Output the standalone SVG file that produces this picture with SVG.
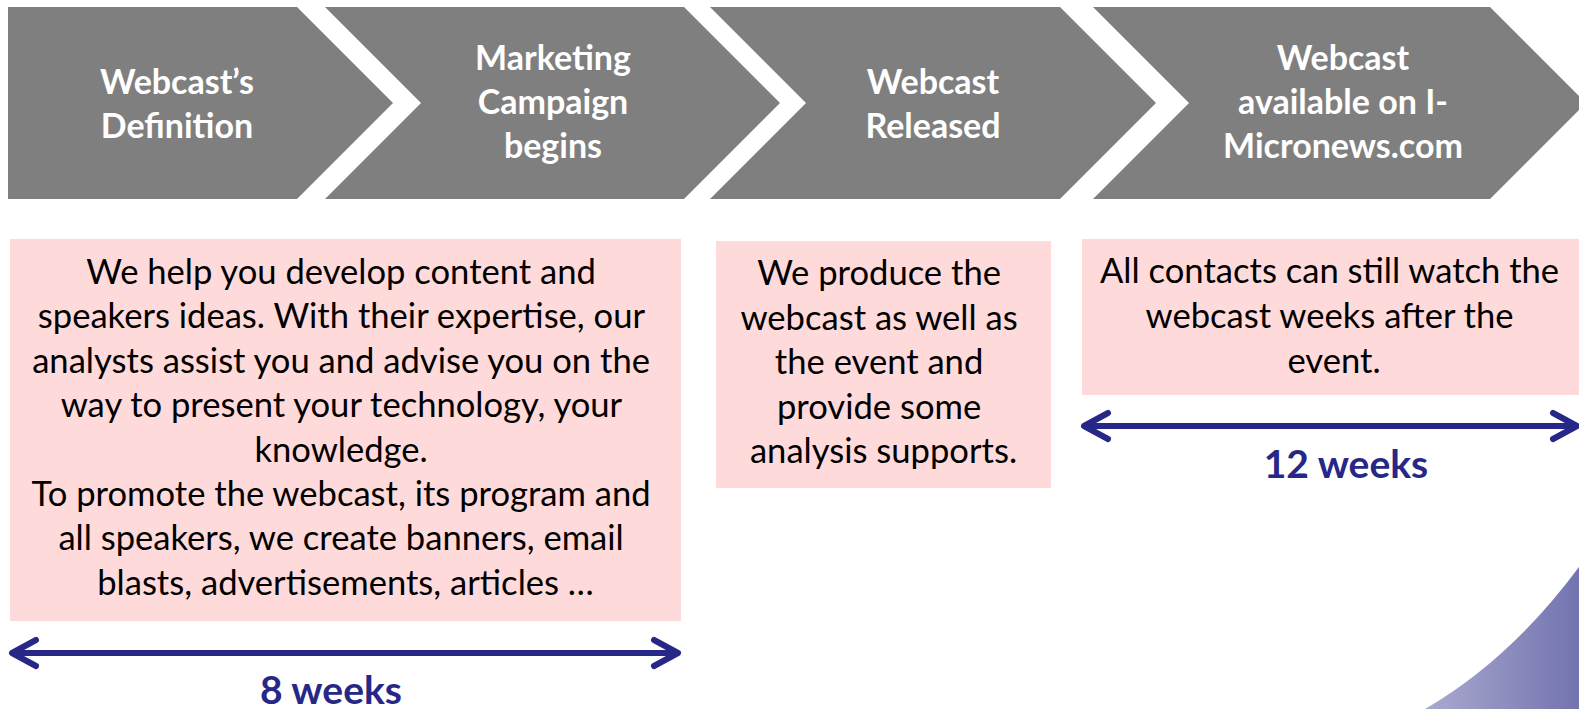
<svg xmlns="http://www.w3.org/2000/svg" width="1579" height="709" viewBox="0 0 1579 709">
<style>
.chev{fill:#7f7f7f;}
.ct{font-family:Lato,"Open Sans","Liberation Sans",sans-serif;font-weight:bold;font-size:34px;fill:#ffffff;text-anchor:middle;}
.box{fill:#ffdada;}
.bt{font-family:Lato,"Open Sans","Liberation Sans",sans-serif;font-size:34.6px;fill:#000000;text-anchor:middle;}
.wk{font-family:Lato,"Open Sans","Liberation Sans",sans-serif;font-weight:bold;font-size:39px;fill:#272787;text-anchor:middle;}
.conn{stroke:#272787;stroke-width:6;fill:none;}
</style>
<defs>
<marker id="ah" markerUnits="userSpaceOnUse" markerWidth="40" markerHeight="40" viewBox="-30 -20 40 40" refX="0" refY="0" orient="auto-start-reverse" overflow="visible">
<path d="M-24,-13 L0,0 L-24,13" fill="none" stroke="#272787" stroke-width="6" stroke-linecap="round" stroke-linejoin="round"/>
</marker>
<linearGradient id="pg" x1="0" y1="0" x2="1" y2="0">
<stop offset="0" stop-color="#aaaacf"/>
<stop offset="1" stop-color="#7373b0"/>
</linearGradient>
</defs>

<path d="M1425,709 Q1510,660 1579,567 L1579,709 Z" fill="url(#pg)"/>

<g id="step1">
<path class="chev" d="M8,7 L297,7 L393,103 L297,199 L8,199 Z"/>
<text class="ct"><tspan x="177" y="94">Webcast’s</tspan><tspan x="177" y="138">Definition</tspan></text>
</g>
<g id="step2">
<path class="chev" d="M325,7 L684,7 L780,103 L684,199 L325,199 L421,103 Z"/>
<text class="ct"><tspan x="553" y="70">Marketing</tspan><tspan x="553" y="114">Campaign</tspan><tspan x="553" y="158">begins</tspan></text>
</g>
<g id="step3">
<path class="chev" d="M710,7 L1060,7 L1156,103 L1060,199 L710,199 L806,103 Z"/>
<text class="ct"><tspan x="933" y="94">Webcast</tspan><tspan x="933" y="138">Released</tspan></text>
</g>
<g id="step4">
<path class="chev" d="M1093,7 L1490,7 L1586,103 L1490,199 L1093,199 L1189,103 Z"/>
<text class="ct"><tspan x="1343" y="70">Webcast</tspan><tspan x="1343" y="114">available on I-</tspan><tspan x="1343" y="158">Micronews.com</tspan></text>
</g>

<g id="desc1">
<rect class="box" x="10" y="239" width="671" height="382"/>
<text class="bt">
<tspan x="345.5" y="284">We help you develop content and</tspan>
<tspan x="345.5" y="328.4">speakers ideas. With their expertise, our</tspan>
<tspan x="345.5" y="372.8">analysts assist you and advise you on the</tspan>
<tspan x="345.5" y="417.2">way to present your technology, your</tspan>
<tspan x="345.5" y="461.6">knowledge.</tspan>
<tspan x="345.5" y="506">To promote the webcast, its program and</tspan>
<tspan x="345.5" y="550.4">all speakers, we create banners, email</tspan>
<tspan x="345.5" y="594.8">blasts, advertisements, articles …</tspan>
</text>
</g>
<g id="desc2">
<rect class="box" x="716" y="241" width="335" height="247"/>
<text class="bt">
<tspan x="883.5" y="285">We produce the</tspan>
<tspan x="883.5" y="329.5">webcast as well as</tspan>
<tspan x="883.5" y="374">the event and</tspan>
<tspan x="883.5" y="418.5">provide some</tspan>
<tspan x="883.5" y="463">analysis supports.</tspan>
</text>
</g>
<g id="desc3">
<rect class="box" x="1082" y="239" width="497" height="156"/>
<text class="bt">
<tspan x="1334" y="283">All contacts can still watch the</tspan>
<tspan x="1334" y="328">webcast weeks after the</tspan>
<tspan x="1334" y="373">event.</tspan>
</text>
</g>

<g id="connectors">
<line class="conn" x1="12" y1="653" x2="678" y2="653" marker-start="url(#ah)" marker-end="url(#ah)"/>
<line class="conn" x1="1084" y1="426" x2="1577" y2="426" marker-start="url(#ah)" marker-end="url(#ah)"/>
</g>

<g id="duration1">
<text class="wk" x="331" y="704">8 weeks</text>
</g>
<g id="duration2">
<text class="wk" x="1346" y="478">12 weeks</text>
</g>
</svg>
